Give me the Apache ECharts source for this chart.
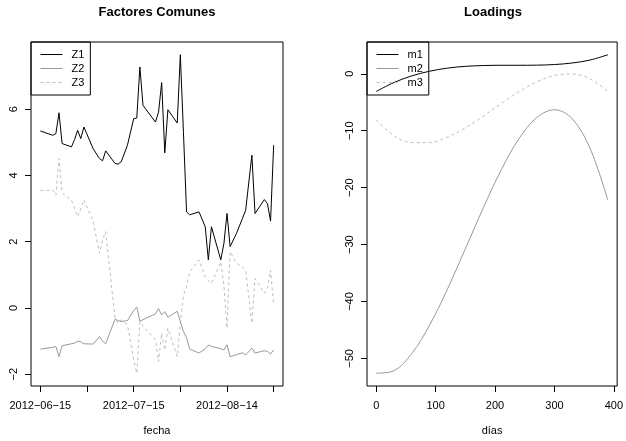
<!DOCTYPE html>
<html><head><meta charset="utf-8">
<script src="https://cdn.jsdelivr.net/npm/echarts@6/dist/echarts.min.js"></script>
<style>html,body{margin:0;padding:0;background:#fff}#c{width:626px;height:441px}</style>
</head><body><div id="c"></div>
<script>
// ---- Left panel: Factores Comunes ----
const fechas = ['2012-06-15','2012-06-19','2012-06-20','2012-06-21','2012-06-22','2012-06-25','2012-06-26','2012-06-27','2012-06-28','2012-06-29',
  '2012-07-02','2012-07-04','2012-07-05','2012-07-06','2012-07-09','2012-07-10','2012-07-11','2012-07-13','2012-07-15','2012-07-16',
  '2012-07-17','2012-07-18','2012-07-22','2012-07-23','2012-07-24','2012-07-25','2012-07-26','2012-07-29','2012-07-30','2012-07-31',
  '2012-08-01','2012-08-02','2012-08-05','2012-08-07','2012-08-08','2012-08-09','2012-08-12','2012-08-13','2012-08-14','2012-08-15',
  '2012-08-17','2012-08-19','2012-08-20','2012-08-22','2012-08-23','2012-08-26','2012-08-27','2012-08-28','2012-08-29'];
const Z1 = [5.34,5.21,5.26,5.89,4.96,4.86,5.08,5.36,5.11,5.46,
  4.80,4.51,4.44,4.74,4.36,4.34,4.41,4.91,5.71,5.73,
  7.27,6.11,5.61,5.91,6.80,4.68,5.98,5.58,7.64,5.30,
  2.90,2.81,2.90,2.45,1.45,2.45,1.45,1.94,2.85,1.85,
  2.24,2.71,2.95,4.61,2.85,3.27,3.15,2.62,4.91];
const Z2 = [-1.24,-1.19,-1.16,-1.47,-1.14,-1.08,-1.06,-1.00,-1.02,-1.08,
  -1.09,-0.86,-1.00,-1.08,-0.34,-0.38,-0.41,-0.38,-0.08,0.03,
  -0.40,-0.35,-0.18,-0.02,-0.21,-0.11,-0.28,-0.10,-0.41,-0.71,
  -0.90,-1.24,-1.36,-1.23,-1.12,-1.16,-1.23,-1.27,-1.11,-1.47,
  -1.41,-1.35,-1.42,-1.21,-1.36,-1.29,-1.31,-1.39,-1.27];
const Z3 = [3.55,3.55,3.40,4.51,3.47,3.25,3.01,2.75,2.99,3.27,
  2.60,1.65,2.05,2.30,-0.30,-0.46,-0.36,-0.51,-1.54,-1.97,
  -0.41,-0.54,-0.96,-1.62,-0.76,-1.27,-0.61,-1.47,-0.45,0.39,
  0.63,1.09,1.45,0.94,0.83,0.74,1.39,0.69,-0.61,1.70,
  1.35,1.23,1.14,-0.46,0.89,0.44,0.61,1.14,0.09];
const xTickFechas = ['2012-06-15','2012-06-30','2012-07-15','2012-07-30','2012-08-14','2012-08-29'];
const xLabelFechas = ['2012-06-15','2012-07-15','2012-08-14'];
const yTicksLeft = [-2,0,2,4,6];

// ---- Right panel: Loadings ----
const dias = [0,30,60,90,120,150,180,210,240,270,300,330,360,390];
const m1 = [-3.1,-1.52,-0.36,0.46,1.0,1.31,1.45,1.50,1.50,1.52,1.63,1.90,2.42,3.35];
const m2 = [-52.6,-52.14,-49.10,-44.11,-37.79,-30.74,-23.59,-16.96,-11.45,-7.70,-6.31,-7.90,-13.10,-22.2];
const m3 = [-8.1,-10.9,-12.08,-12.06,-11.11,-9.49,-7.45,-5.26,-3.17,-1.43,-0.30,-0.03,-0.89,-3.13];
const xTicksRight = [0,100,200,300,400];
const yTicksRight = [-50,-40,-30,-20,-10,0];

const ts = s => Date.parse(s + 'T00:00:00Z');
const mn = v => String(v).replace('-', '\u2212');
const pad = (lo, hi) => { const p = (hi - lo) * 0.04; return [lo - p, hi + p]; };

const tX = fechas.map(ts);
const xL = pad(tX[0], tX[tX.length - 1]);
const allZ = Z1.concat(Z2, Z3);
const yL = pad(Math.min(...allZ), Math.max(...allZ));
const xR = pad(dias[0], dias[dias.length - 1]);
const allM = m1.concat(m2, m3);
const yR = pad(Math.min(...allM), Math.max(...allM));

const FONT = 'Liberation Sans, Arial, sans-serif';
const C1 = '#000000', C2 = '#999999', C3 = '#bebebe';

const tickStyle = { show: true, inside: false, length: 6, lineStyle: { color: '#000', width: 1 } };
function xAx(gi, min, max, ticks, labels, fmt, name) {
  return {
    type: 'value', gridIndex: gi, min, max, position: 'bottom', name,
    axisLine: { show: false, onZero: false },
    splitLine: { show: false },
    axisTick: Object.assign({}, tickStyle, { customValues: ticks }),
    axisLabel: { customValues: labels, formatter: fmt, fontFamily: FONT, fontSize: 11, color: '#000', margin: 14 },
    nameLocation: 'middle', nameGap: 39,
    nameTextStyle: { fontFamily: FONT, fontSize: 11, color: '#000' }
  };
}
function yAx(gi, min, max, ticks) {
  return {
    type: 'value', gridIndex: gi, min, max, position: 'left',
    axisLine: { show: false, onZero: false },
    splitLine: { show: false },
    axisTick: Object.assign({}, tickStyle, { customValues: ticks }),
    axisLabel: { customValues: ticks, formatter: v => mn(v), rotate: 90, fontFamily: FONT, fontSize: 11, color: '#000', margin: 12 }
  };
}
const lineSeries = (name, xi, xs, ys, color, dashed) => ({
  name, type: 'line', xAxisIndex: xi, yAxisIndex: xi,
  data: xs.map((x, i) => [x, ys[i]]),
  symbol: 'none', showSymbol: false, animation: false,
  smooth: xi === 1 ? 0.35 : false,
  lineStyle: { color, width: 1, type: dashed ? [3, 3] : 'solid' },
  itemStyle: { color }
});
const legendCommon = {
  orient: 'vertical', borderColor: '#000', borderWidth: 1, borderRadius: 0,
  itemWidth: 22, itemHeight: 11, itemGap: 3, padding: [7, 6, 7, 9],
  itemStyle: { opacity: 0 },
  lineStyle: { width: 1 },
  textStyle: { fontFamily: FONT, fontSize: 11, color: '#000', padding: [0, 0, 0, 4] },
  selectedMode: false, backgroundColor: 'transparent'
};
const titleStyle = { fontFamily: FONT, fontSize: 13, fontWeight: 'bold', color: '#000' };

const chart = echarts.init(document.getElementById('c'), null, { renderer: 'canvas' });
chart.setOption({
  backgroundColor: '#fff',
  animation: false,
  title: [
    { text: 'Factores Comunes', left: 157, top: 6, padding: 0, textAlign: 'center', textStyle: titleStyle },
    { text: 'Loadings', left: 493, top: 6, padding: 0, textAlign: 'center', textStyle: titleStyle }
  ],
  grid: [
    { left: 31, top: 42, width: 252, bottom: 54, show: true, borderColor: '#000', borderWidth: 1, backgroundColor: 'transparent' },
    { left: 367, top: 42, right: 7, bottom: 53, show: true, borderColor: '#000', borderWidth: 1, backgroundColor: 'transparent' }
  ],
  xAxis: [
    xAx(0, xL[0], xL[1], xTickFechas.map(ts), xLabelFechas.map(ts),
      v => new Date(v).toISOString().slice(0, 10).replace(/-/g, '\u2212'), 'fecha'),
    xAx(1, xR[0], xR[1], xTicksRight, xTicksRight, v => mn(v), 'días')
  ],
  yAxis: [ yAx(0, yL[0], yL[1], yTicksLeft), yAx(1, yR[0], yR[1], yTicksRight) ],
  legend: [
    Object.assign({}, legendCommon, { left: 31, top: 42, data: ['Z1', 'Z2', 'Z3'] }),
    Object.assign({}, legendCommon, { left: 367, top: 42, data: ['m1', 'm2', 'm3'] })
  ],
  series: [
    lineSeries('Z3', 0, tX, Z3, C3, true),
    lineSeries('Z2', 0, tX, Z2, C2, false),
    lineSeries('Z1', 0, tX, Z1, C1, false),
    lineSeries('m3', 1, dias, m3, C3, true),
    lineSeries('m2', 1, dias, m2, C2, false),
    lineSeries('m1', 1, dias, m1, C1, false)
  ]
});
</script>
</body></html>
